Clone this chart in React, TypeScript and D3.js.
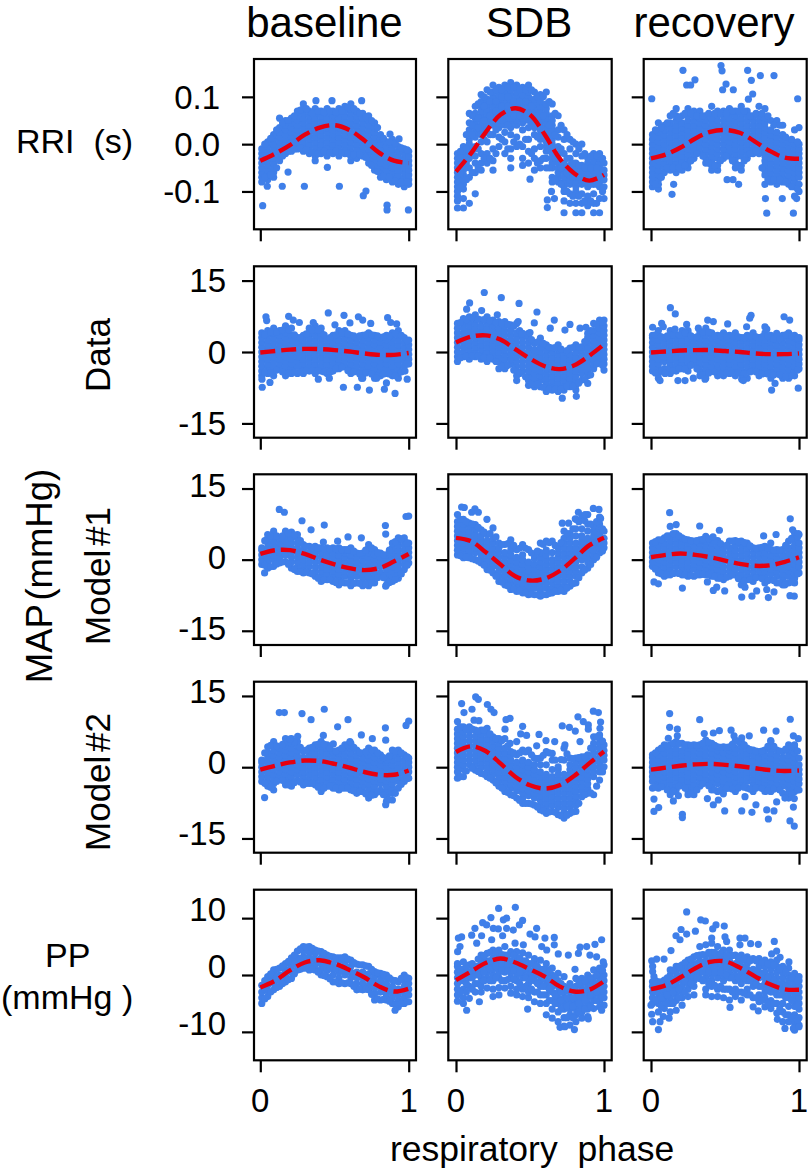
import { useEffect, useRef } from "react";
import * as d3 from "d3";

// each row: phase, then the values read at that phase
type Row = number[];

const columnTitles = ["baseline", "SDB", "recovery"];
const linePhases = [0, 0.1, 0.2, 0.3, 0.4, 0.5, 0.6, 0.7, 0.8, 0.9, 1];

const rriBaseline: Row[] = [
  [.01,-.08,-.07,-.06,-.05,-.04,-.03,-.02,-.01],
  [.05,-.075,-.065,-.055,-.045,-.035,-.025,-.015,-.005,.005],
  [.09,-.07,-.06,-.05,-.04,-.03,-.02,-.01,0,.01,.02],
  [.13,-.035,-.025,-.015,-.005,.005,.015,.025,.035,.055],
  [.17,-.02,-.01,0,.01,.02,.03,.04,.05],
  [.21,-.015,-.005,.005,.015,.025,.035,.045,.055],
  [.25,-.01,0,.01,.02,.03,.04,.05,.06,.07],
  [.29,-.015,-.005,.005,.015,.025,.035,.045,.055,.065,.075,.085],
  [.33,-.02,-.01,0,.01,.02,.03,.04,.05,.06,.07],
  [.37,-.035,-.025,-.015,-.005,.005,.015,.025,.035,.045,.055,.065,.075],
  [.41,-.02,-.01,0,.01,.02,.03,.04,.05,.06,.07],
  [.45,-.025,-.015,-.005,.005,.015,.025,.035,.045,.055,.065,.075],
  [.49,-.02,-.01,0,.01,.02,.03,.04,.05,.06,.07],
  [.53,-.025,-.015,-.005,.005,.015,.025,.035,.045,.055,.065,.075],
  [.57,-.02,-.01,0,.01,.02,.03,.04,.05,.06,.07,.08],
  [.61,-.035,-.025,-.015,-.005,.005,.015,.025,.035,.045,.055,.065,.075,.085],
  [.65,-.03,-.02,-.01,0,.01,.02,.03,.04,.05,.06,.07],
  [.69,-.025,-.015,-.005,.005,.015,.025,.035,.045,.055,.065],
  [.73,-.04,-.03,-.02,-.01,0,.01,.02,.03,.04,.05,.06],
  [.77,-.055,-.045,-.035,-.025,-.015,-.005,.005,.015,.025,.035,.045],
  [.81,-.07,-.06,-.05,-.04,-.03,-.02,-.01,0,.01,.02],
  [.85,-.075,-.065,-.055,-.045,-.035,-.025,-.015,-.005,.005],
  [.89,-.08,-.07,-.06,-.05,-.04,-.03,-.02,-.01,0,.01],
  [.93,-.085,-.075,-.065,-.055,-.045,-.035,-.025,-.015,-.005],
  [.97,-.09,-.08,-.07,-.06,-.05,-.04,-.03,-.02,-.01],
  [1,-.085,-.075,-.065,-.055,-.045,-.035,-.025,-.015],
  [.03,-.07,0],[.07,-.065,.012],[.11,-.05,.03],[.15,-.025,.045],[.19,-.015,.05],[.23,-.01,.06],[.27,-.008,.072],[.31,-.012,.075],[.35,-.018,.065],
  [.39,-.02,.07],[.43,-.015,.068],[.47,-.018,.07],[.51,-.015,.068],[.55,-.018,.07],[.59,-.02,.078],[.63,-.022,.075],[.67,-.022,.065],[.71,-.028,.058],
  [.75,-.045,.05],[.79,-.058,.035],[.83,-.068,.012],[.87,-.07,.005],[.91,-.078,.002],[.95,-.08,-.008],[.99,-.08,-.012],
  [.016,-.13],[.047,-.089],[.148,-.089],[.187,-.059],[.297,-.089],[.452,-.049],[.533,-.089],[.694,-.109],[.712,-.099],
  [.854,-.129],[.854,-.139],[.998,-.139],[.375,.092],[.483,.092],[.683,.092],[.874,.021],[.935,.011],
];

const rriSdb: Row[] = [
  [.01,-.11,-.1,-.09,-.08,-.07,-.06,-.05,-.04,-.03,-.02,-.135,-.12],
  [.05,-.135,-.115,-.095,-.085,-.075,-.065,-.055,-.045,-.035,-.025,-.015,-.005],
  [.09,-.125,-.07,-.05,-.03,-.02,-.01,0,.01,.02,.03,.045,.065],
  [.13,-.105,-.06,-.04,-.025,-.005,.015,.025,.035,.045,.055,.065,.08],
  [.17,-.055,-.04,-.02,.005,.02,.03,.04,.05,.06,.07,.08,.09,.105],
  [.21,-.04,-.02,.005,.025,.035,.045,.055,.065,.075,.085,.095,.115],
  [.25,-.055,-.035,-.01,.02,.04,.05,.06,.07,.08,.09,.1,.11,.125],
  [.29,-.005,.015,.035,.045,.055,.065,.075,.085,.095,.105,.12],
  [.33,-.02,.005,.025,.04,.05,.06,.07,.08,.09,.1,.11,.125],
  [.37,-.05,-.03,-.01,.02,.035,.045,.055,.065,.075,.085,.095,.105,.115,.13],
  [.41,-.005,.015,.04,.05,.06,.07,.08,.09,.1,.11,.125],
  [.45,-.045,-.03,-.005,.03,.045,.055,.065,.075,.085,.095,.105,.12],
  [.49,-.04,-.015,.01,.035,.05,.06,.07,.08,.09,.1,.11,.125],
  [.53,-.055,-.03,-.01,.02,.035,.045,.055,.065,.075,.085,.095,.11],
  [.57,-.05,-.035,-.005,.01,.02,.03,.04,.05,.06,.07,.08,.09,.105],
  [.61,-.05,-.03,-.015,-.005,.005,.015,.025,.035,.045,.055,.065,.075,.085,.11],
  [.65,-.08,-.07,-.05,-.04,-.03,-.02,-.01,0,.01,.02,.03,.04,.05,.06,.085],
  [.69,-.08,-.07,-.06,-.05,-.04,-.03,-.02,-.005,.015,.03,.06],
  [.73,-.145,-.12,-.1,-.09,-.08,-.07,-.06,-.05,-.04,-.02,.01,.03],
  [.77,-.125,-.105,-.085,-.075,-.065,-.055,-.045,-.03,-.01,.01],
  [.81,-.145,-.125,-.1,-.09,-.08,-.07,-.06,-.05,-.04,-.02,0],
  [.85,-.145,-.125,-.105,-.085,-.075,-.065,-.055,-.045,-.025,0],
  [.89,-.13,-.11,-.09,-.08,-.07,-.06,-.05,-.04,-.03],
  [.93,-.145,-.125,-.105,-.085,-.075,-.065,-.055,-.045,-.035,-.02],
  [.97,-.145,-.115,-.09,-.08,-.07,-.06,-.05,-.04,-.03,-.02],
  [1,-.115,-.09,-.075,-.065,-.055,-.04],
  [.03,-.09,-.06,-.03,-.015],[.07,-.075,-.04,-.01,.02],[.11,-.06,-.015,.02,.04,.06],[.15,-.05,-.01,.035,.055,.085],[.19,-.03,.01,.05,.08,.1],[.23,-.03,.02,.06,.09,.11],
  [.27,-.02,.03,.07,.09,.115],[.31,.01,.05,.08,.1,.115],[.35,-.01,.04,.08,.1,.12],[.39,.005,.06,.09,.12],[.43,0,.06,.09,.115],[.47,.01,.06,.09,.115],[.51,-.02,.04,.08,.115],
  [.55,-.04,.015,.06,.1],[.59,-.03,.02,.06,.1],[.63,-.05,-.01,.04,.09],[.67,-.075,-.03,.02,.065],[.71,-.085,-.05,-.01,.04],[.75,-.1,-.06,-.03,.02],[.79,-.11,-.07,-.04,.005],
  [.83,-.11,-.07,-.045,-.01],[.87,-.12,-.08,-.05,-.02],[.91,-.12,-.085,-.05,-.025],[.95,-.125,-.085,-.05,-.025],[.99,-.1,-.07,-.03],
  [.617,-.118],[.617,-.134],[.5,-.074],[.645,-.1],[.665,-.115],
];

const rriRecovery: Row[] = [
  [.01,-.09,-.08,-.07,-.06,-.05,-.04,-.03,-.02,-.01,0,.01,.02],
  [.05,-.095,-.085,-.075,-.065,-.055,-.045,-.035,-.025,-.015,-.005,.005,.015,.025,.045],
  [.09,-.06,-.05,-.04,-.03,-.02,-.01,0,.01,.02,.03,.04],
  [.13,-.055,-.045,-.035,-.025,-.015,-.005,.005,.015,.025,.035,.045,.06],
  [.17,-.06,-.05,-.04,-.03,-.02,-.01,0,.01,.02,.03,.04,.05,.06,.075],
  [.21,-.055,-.045,-.035,-.025,-.015,-.005,.005,.015,.025,.035,.045,.06],
  [.25,-.05,-.04,-.03,-.02,-.01,0,.01,.02,.03,.04,.05,.06,.075],
  [.29,-.03,-.02,-.01,0,.01,.02,.03,.04,.05,.06,.07],
  [.33,-.015,-.005,.005,.015,.025,.035,.045,.055,.07],
  [.37,-.04,-.03,-.02,-.01,0,.01,.02,.03,.04,.05,.06],
  [.41,-.055,-.045,-.035,-.025,-.015,-.005,.005,.015,.025,.035,.045,.055,.08],
  [.45,-.055,-.045,-.03,-.02,-.01,0,.01,.02,.03,.04,.05,.06,.07],
  [.49,-.03,-.02,-.01,0,.01,.02,.03,.04,.05,.06,.07],
  [.53,-.025,-.015,-.005,.005,.015,.025,.035,.045,.055,.065,.075],
  [.57,-.05,-.04,-.03,-.02,-.01,0,.01,.02,.03,.04,.05,.06,.07],
  [.61,-.055,-.045,-.025,-.015,-.005,.005,.015,.025,.035,.045,.055,.065,.08],
  [.65,-.03,-.02,-.01,0,.01,.02,.03,.04,.05,.06,.07],
  [.69,-.02,-.01,0,.01,.02,.03,.04,.05,.06],
  [.73,-.02,-.01,0,.01,.02,.03,.04,.05,.06,.08],
  [.77,-.085,-.065,-.055,-.045,-.035,-.025,-.015,-.005,.005,.015,.025,.035,.045,.055,.075],
  [.81,-.08,-.07,-.06,-.05,-.04,-.03,-.02,-.01,0,.01,.02,.03,.05],
  [.85,-.085,-.075,-.065,-.055,-.045,-.035,-.025,-.015,-.005,.005,.015,.025,.05],
  [.89,-.08,-.07,-.06,-.05,-.04,-.03,-.02,-.01,0,.01,.02,.04],
  [.93,-.085,-.075,-.065,-.055,-.045,-.035,-.025,-.015,-.005,.005],
  [.97,-.11,-.09,-.08,-.07,-.06,-.05,-.04,-.03,-.02,-.01,0,.03],
  [1,-.1,-.085,-.07,-.06,-.05,-.04,-.03,-.02,-.01,0,.035],
  [.03,-.085,.03],[.07,-.07,.035],[.11,-.05,.045],[.15,-.05,.065],[.19,-.05,.055],[.23,-.045,.065],[.27,-.035,.065],[.31,-.02,.06],[.35,-.025,.06],
  [.39,-.04,.065],[.43,-.045,.065],[.47,-.035,.065],[.51,-.025,.065],[.55,-.035,.07],[.59,-.045,.07],[.63,-.035,.07],[.67,-.02,.06],[.71,-.015,.065],
  [.75,-.05,.065],[.79,-.075,.06],[.83,-.075,.04],[.87,-.075,.04],[.91,-.08,.015],[.95,-.09,.01],[.99,-.095,.005],
  [.005,.096],[.216,.156],[.241,.125],[.268,.125],[.297,.136],[.473,.166],[.48,.155],[.507,.127],[.484,.115],[.556,.115],
  [.653,.156],[.678,.135],[.739,.145],[.831,.145],[.687,.106],[.658,.095],[.991,.096],[.153,-.085],[.142,-.106],[.514,-.075],
  [.554,-.075],[.592,-.085],[.773,-.115],[.887,-.115],[.782,-.146],[.962,-.146],[.984,-.115],
];

const mapDataBaseline: Row[] = [
  [.01,-5,-4,-3,-2,-1,0,1,2,3,4],
  [.05,-4.5,-3.5,-2.5,-1.5,-.5,.5,1.5,2.5,3.5,4.5],
  [.09,-5,-4,-3,-2,-1,0,1,2,3,4,5],
  [.13,-3.5,-2.5,-1.5,-.5,.5,1.5,2.5,3.5,4.5],
  [.17,-5,-4,-3,-2,-1,0,1,2,3,4,5.5],
  [.21,-4.5,-3.5,-2.5,-1.5,-.5,.5,1.5,2.5,3.5,5],
  [.25,-4.5,-3,-2,-1,0,1,2,3],
  [.29,-4.5,-3.5,-2.5,-1.5,-.5,.5,1.5,2.5,3.5],
  [.33,-4,-3,-2,-1,0,1,2,3,4,5],
  [.37,-4.5,-3.5,-2.5,-1.5,-.5,.5,1.5,2.5,3.5,4.5,5.5],
  [.41,-4,-3,-2,-1,0,1,2,3,4,5],
  [.45,-4.5,-3.5,-2.5,-1.5,-.5,.5,1.5,2.5],
  [.49,-4,-3,-2,-1,0,1,2,3,3.5],
  [.53,-3.5,-2.5,-1.5,-.5,.5,1.5,2.5,3.5,4.5],
  [.57,-3,-2,-1,0,1,2,3,4,4.5],
  [.61,-4.5,-3.5,-2.5,-1.5,-.5,.5,1.5,2.5,3.5],
  [.65,-4,-3,-2,-1,0,1,2,3],
  [.69,-5.5,-4.5,-3.5,-2.5,-1.5,-.5,.5,1.5,2.5,3.5],
  [.73,-4,-3,-2,-1,0,1,2,3,4],
  [.77,-5.5,-4.5,-3.5,-2.5,-1.5,-.5,.5,1.5,2.5,3.5],
  [.81,-5,-4,-3,-2,-1,0,1,2,3],
  [.85,-4.5,-3.5,-2.5,-1.5,-.5,.5,1.5,2.5,3.5],
  [.89,-5,-4,-3,-2,-1,0,1,2,3,4],
  [.93,-5.5,-4.5,-3.5,-2.5,-1.5,-.5,.5,1.5,2.5,3.5,4.5],
  [.97,-3,-2,-1,0,1,2,3],
  [1,-2.5,-1.5,-.5,.5,1.5,2.5],
  [.03,-4.2,3.6],[.07,-4.4,4.2],[.11,-3.8,4.2],[.15,-4.2,4.6],[.19,-4.4,4.6],[.23,-4.2,3.6],[.27,-4.2,3],[.31,-3.9,3.8],[.35,-3.9,4.6],[.39,-3.9,4.6],[.43,-4.2,3.6],
  [.47,-4.2,3],[.51,-3.5,3.6],[.55,-3.2,4],[.59,-3.9,3.8],[.63,-4.2,3.4],[.67,-4.6,3.4],[.71,-4.4,3.6],[.75,-4.6,3.6],[.79,-5,3.4],[.83,-4.6,3.2],[.87,-4.6,3.4],
  [.91,-5,3.8],[.95,-4.2,3.5],[.99,-2.5,2.4],
  [.038,7.4],[.043,6.6],[.191,7.5],[.222,6.7],[.263,6.2],[.458,8.2],[.564,7.7],[.661,7.4],[.69,6.7],[.604,6.1],[.744,6],[.503,5.7],
  [.357,6.2],[.858,7.2],[.879,6.2],[.919,5.9],[.013,-7.4],[.065,-6.4],[.56,-7.4],[.654,-7.4],[.735,-8],[.836,-7.8],[.908,-8.7],
  [.99,-5.7],[.975,-4],[.011,-5.7],[.683,-5.5],[.85,-6.5],[.784,-5.5],[.391,-5.7],[.465,-5.5],
];

const mapDataSdb: Row[] = [
  [.01,-2,-1,0,1,2,3,4,5,6],
  [.05,-1,0,1,2,3,4,5,6,7],
  [.09,-1.5,-.5,.5,1.5,2.5,3.5,4.5,5.5,6.5,7.4],
  [.13,-1,0,1,2,3,4,5,6,7,7.8],
  [.17,-1.5,-.5,.5,1.5,2.5,3.5,4.5,5.5,6.7],
  [.21,-2,-1,0,1,2,3,4,5,6,7.4],
  [.25,-1.5,-.5,.5,1.5,2.5,3.5,4.5,5.5,6.7],
  [.29,-3.5,-2,-1,0,1,2,3,4,5,6.4],
  [.33,-3.5,-2.5,-1.5,-.5,.5,1.5,2.5,3.5,4.5,5.5,6.4],
  [.37,-2.5,-1.5,-.5,.5,1.5,2.5,3.5,4.5,5.7],
  [.41,-6,-5,-4,-3,-2,-1,0,1,2,3,4,6],
  [.45,-4,-3,-2,-1,0,1,2,3,3.9],
  [.49,-7,-6,-5,-4,-3,-2,-1,0,1,2,3,3.9],
  [.53,-7.3,-6.5,-5.5,-4.5,-3.5,-2.5,-1.5,-.5,.5,1.8],
  [.57,-7.3,-6,-5,-4,-3,-2,-1,0,1,2,2.9],
  [.61,-8.3,-7.5,-6.5,-5.5,-4.5,-3.5,-2.5,-1.5,-.5,.5,1.5],
  [.65,-8,-7,-6,-5,-4,-3,-2,-1,0,.8],
  [.69,-8.3,-7.5,-6.5,-5.5,-4.5,-3.5,-2.5,-1.5,-.5,.5,1.5],
  [.73,-8,-7,-6,-5,-4,-3,-2,-1,0],
  [.77,-7.3,-6.5,-5.5,-4.5,-3.5,-2.5,-1.5,-.5,.8],
  [.81,-8,-7,-6,-5,-4,-3,-2,-1,0,1,1.5],
  [.85,-5.9,-4.5,-3.5,-2.5,-1.5,-.5,.5,1.1],
  [.89,-6.6,-5,-4,-3,-2,-1,0,1,2,3,3.9],
  [.93,-3.5,-2.5,-1.5,-.5,.5,1.5,2.5,3.5,4.5,6],
  [.97,-2,-1,0,1,2,3,4,5,6,6.7],
  [1,-3.8,-2.5,-1.5,-.5,.5,1.5,2.5,3.5,4.5,5.5,6.7],
  [.03,-1.2,6.2],[.07,-.9,6.8],[.11,-.8,7.2],[.15,-.8,6.9],[.19,-1.2,6.8],[.23,-1.2,6.6],[.27,-2,6.2],[.31,-3,6],[.35,-2.8,5.8],[.39,-3.8,5.4],[.43,-4.5,4.5],
  [.47,-5.2,3.5],[.51,-6.8,2.6],[.55,-6.8,2.1],[.59,-7.4,1.8],[.63,-7.8,1],[.67,-7.8,.9],[.71,-7.8,.6],[.75,-7.2,.3],[.79,-7.2,.9],[.83,-6.5,1],[.87,-5.8,2.2],
  [.91,-4.8,4.5],[.95,-2.5,5.8],[.99,-2.8,6.2],
  [.191,12.5],[.306,11.4],[.426,10.2],[.547,8.4],[.092,10.3],[.072,9],[.173,8.7],[.279,7.8],[.529,6.1],[.664,6.7],[.637,5],
  [.77,5.8],[.736,4.6],[.838,5],[.878,5.2],[.718,-9.7],[.813,-9.3],[.42,6.4],[.5,4.1],[.444,3.8],
];

const mapDataRecovery: Row[] = [
  [.01,-4,-3,-2,-1,0,1,2,3,3.5],
  [.05,-5.5,-4.5,-3.5,-2.5,-1.5,-.5,.5,1.5,2.5,3.5,4.5],
  [.09,-3.5,-2,-1,0,1,2,3],
  [.13,-4.5,-3.5,-2.5,-1.5,-.5,.5,1.5,2.5,3.5,4.5],
  [.17,-4,-3,-2,-1,0,1,2,3,3.5],
  [.21,-3.5,-2.5,-1.5,-.5,.5,1.5,2.5,3.5,4.5],
  [.25,-4,-3,-2,-1,0,1,2,3,4,4.5],
  [.29,-2.5,-1.5,-.5,.5,1.5,2.5,3],
  [.33,-5,-4,-3,-2,-1,0,1,2,3,4],
  [.37,-5.5,-4.5,-3.5,-2.5,-1.5,-.5,.5,1.5,2.5,3.5,5],
  [.41,-4,-3,-2,-1,0,1,2,3,4],
  [.45,-5,-3.5,-2.5,-1.5,-.5,.5,1.5,2.5,3.5],
  [.49,-5,-4,-3,-2,-1,0,1,2,3,4],
  [.53,-4.5,-3.5,-2.5,-1.5,-.5,.5,1.5,2.5,3.5],
  [.57,-5,-4,-3,-2,-1,0,1,2,3,4],
  [.61,-4.5,-3.5,-2.5,-1.5,-.5,.5,1.5,2.5,3],
  [.65,-5.5,-4,-3,-2,-1,0,1,2,3,3.5],
  [.69,-3.5,-2.5,-1.5,-.5,.5,1.5,2.5,3.5,4],
  [.73,-5,-4,-3,-2,-1,0,1,2,3],
  [.77,-4.5,-3.5,-2.5,-1.5,-.5,.5,1.5,2.5,3.5,4],
  [.81,-5.5,-4,-3,-2,-1,0,1,2,3,3.5],
  [.85,-4.5,-3.5,-2.5,-1.5,-.5,.5,1.5,2.5],
  [.89,-5.5,-4,-3,-2,-1,0,1,2,3,3.5],
  [.93,-5.5,-4.5,-3.5,-2.5,-1.5,-.5,.5,1.5,2.5,3.5,4],
  [.97,-5,-4,-3,-2,-1,0,1,2,3,3.5],
  [1,-3.5,-2.5,-1.5,-.5,.5,1.5,2.5,3],
  [.03,-4.4,3.6],[.07,-4,3.2],[.11,-3.6,3.4],[.15,-3.9,3.6],[.19,-3.5,3.6],[.23,-3.6,4],[.27,-2.8,3.4],[.31,-3.5,3.2],[.35,-4.8,4.2],[.39,-4.4,4.2],[.43,-4.2,3.4],
  [.47,-4.6,3.4],[.51,-4.4,3.4],[.55,-4.4,3.4],[.59,-4.4,3.2],[.63,-4.6,3],[.67,-4.2,3.4],[.71,-4.2,3.2],[.75,-4.6,3.2],[.79,-4.6,3.4],[.83,-4.8,2.8],[.87,-4.8,2.8],
  [.91,-5.2,3.6],[.95,-5,3.4],[.99,-3.8,2.8],
  [.131,9.3],[.164,8],[.383,6.7],[.421,6.4],[.518,5.9],[.676,7.7],[.667,7.1],[.646,5.3],[.899,7.4],[.937,6.7],[.77,5.3],[.782,4.8],
  [.849,3.9],[.815,-8],[.838,-6.6],[.995,-7.6],[.182,-6],[.23,-6],[.286,-5.5],[.365,-5.7],[.061,-6],[.095,-4.5],[.011,5.2],
  [.072,6],[.083,5.3],[.162,4.8],[.241,5.8],[.32,5],[.995,2.9],[.613,-5.7],[.624,-6],
];

const model1Baseline: Row[] = [
  [.01,-1,0,1,2,2.5],
  [.05,-1.8,-.5,.5,1.5,2.5,3.5,4.5,5.3],
  [.09,-1.4,0,1,2,3,4,5,6],
  [.13,-.7,.5,1.5,2.5,3.5,4.6],
  [.17,-.4,1,2,3,4,5,6],
  [.21,-1.8,-.5,.5,1.5,2.5,3.5,4.5,5.8],
  [.25,-2.5,-1.5,-.5,.5,1.5,2.5,3.5,4.5,5.3],
  [.29,-2.8,-2,-1,0,1,2,3.2],
  [.33,-2.8,-1.5,-.5,.5,1.5,2.8],
  [.37,-3.5,-2.5,-1.5,-.5,.5,1.5,2.8],
  [.41,-4.6,-3.5,-2.5,-1.5,-.5,.5,1.5,2.5],
  [.45,-4.2,-3,-2,-1,0,1,2,2.5],
  [.49,-4.6,-3.5,-2.5,-1.5,-.5,.5,1.5,2.5],
  [.53,-5.3,-4,-3,-2,-1,0,1,2,2.5],
  [.57,-4.9,-3.5,-2.5,-1.5,-.5,.5,1.5,2.1],
  [.61,-5.5,-4,-3,-2,-1,0,1,2,2.5],
  [.65,-4.9,-3.5,-2.5,-1.5,-.5,.5,1.4],
  [.69,-5.5,-4,-3,-2,-1,0,1,1.4],
  [.73,-5.5,-4.5,-3.5,-2.5,-1.5,-.5,.5,1.5,2.5,3.2],
  [.77,-4.9,-4,-3,-2,-1,0,1,2.1],
  [.81,-2.8,-1.5,-.5,.5,1.4],
  [.85,-5.3,-4,-3,-2,-1,0,1],
  [.89,-4.6,-3.5,-2.5,-1.5,-.5,.5,1.5,2.5,3.5],
  [.93,-3.9,-3,-2,-1,0,1,2,3,4,4.6],
  [.97,-2.1,-1,0,1,2,3,4,4.6],
  [1,-.7,.5,1.5,2.5,3.5],
  [.03,-1.2,4],[.07,-1.5,5],[.11,-.9,5],[.15,-.5,5],[.19,-1,5.5],[.23,-2.1,5.2],[.27,-2.5,4],[.31,-2.6,2.8],[.35,-3,2.6],[.39,-3.9,2.5],[.43,-4.2,2.3],[.47,-4.2,2.3],
  [.51,-4.8,2.3],[.55,-4.8,2.1],[.59,-4.9,2.1],[.63,-5,1.8],[.67,-5,1.3],[.71,-5.2,2],[.75,-4.9,2.5],[.79,-3.8,1.5],[.83,-3.8,1],[.87,-4.8,2],[.91,-4.2,3.8],[.95,-3,4.4],[.99,-1.2,3.5],
  [.128,10.6],[.162,10],[.281,8.2],[.342,6.3],[.431,7.3],[.521,3.9],[.591,4.8],[.681,4.6],[.425,3.7],[.843,7.2],[.845,5.4],
  [.982,9.1],[1,9.2],[.029,-2.8],[.845,-5.6],
];

const model1Sdb: Row[] = [
  [.01,1,2,3,4,5,6,7,8,9.5],
  [.05,.4,1.5,2.5,3.5,4.5,5.5,6.5,7.5,8.5],
  [.09,.4,1,2,3,4,5,6,7,7.7],
  [.13,0,1.5,2.5,3.5,4.5,5.5,6.5,7.4],
  [.17,-.7,0,1,2,3,4,5,6.3],
  [.21,-2.1,-1,0,1,2,3,4,5.3],
  [.25,-2.8,-1.5,-.5,.5,1.5,2.5,3.5,4.5,6.7],
  [.29,-4.6,-3.5,-2.5,-1.5,-.5,.5,1.5,2.5,3.5],
  [.33,-5.3,-4.5,-3.5,-2.5,-1.5,-.5,.5,1.5,3.2],
  [.37,-6.3,-5,-4,-3,-2,-1,0,1,2,3,4.2],
  [.41,-6.7,-5.5,-4.5,-3.5,-2.5,-1.5,-.5,.5,2.1],
  [.45,-7,-6,-5,-4,-3,-2,-1,0,1,3.2],
  [.49,-7.4,-6.5,-5.5,-4.5,-3.5,-2.5,-1.5,-.5,2.1],
  [.53,-7.4,-6,-5,-4,-3,-2,-1,.2,1],
  [.57,-7.7,-6.5,-5.5,-4.5,-3.5,-2.5,-1.5,-.5,.5,1.5,3.5],
  [.61,-7.4,-6,-5,-4,-3,-2,-1,0,1,2,3.9],
  [.65,-7,-6,-5,-4,-3,-2,-1,0,1.5,3.9],
  [.69,-6.7,-5.5,-4.5,-3.5,-2.5,-1.5,-.5,.5,1.5,2.5],
  [.73,-6.7,-5.5,-4.5,-3.5,-2.5,-1.5,-.5,.5,1.5,2.5,3.5,4.5,6],
  [.77,-5.6,-4.5,-3.5,-2.5,-1.5,-.5,.5,1.5,2.5,3.5,4.5,5.5],
  [.81,-4.9,-3.5,-2.5,-1.5,-.5,.5,1.5,2.5,3.5,5,6.5,8.5],
  [.85,-2.8,-1.5,0,1,2,3,4,5,6.5,9.2],
  [.89,-1.8,-.5,.5,1.5,2.5,3.5,4.5,6,7.5,9.5],
  [.93,0,1,2,3,4,5,6,7],
  [.97,1.4,2.5,3.5,4.5,5.5,6.5,7.5,9],
  [1,2.5,3.5,4.5,6],
  [.03,.8,8.5],[.07,.5,8],[.11,.2,7.5],[.15,-.3,6.8],[.19,-1.2,5.8],[.23,-2.2,5.5],[.27,-3.5,4.8],[.31,-4.7,3.2],[.35,-5.5,3.4],[.39,-6.2,3],[.43,-6.6,2.4],[.47,-7,2.4],
  [.51,-7.2,1.4],[.55,-7.4,1.8],[.59,-7.4,3.2],[.63,-7.1,3.6],[.67,-6.7,3],[.71,-6.5,3.6],[.75,-6,5.5],[.79,-5.1,6.5],[.83,-3.8,8],[.87,-2.2,8.2],[.91,-1,7.5],[.95,.5,8],[.99,1.8,6.5],
  [.038,11.1],[.056,11],[.128,10.7],[.106,10],[.151,10],[.209,8.5],[.928,10.8],[.966,10.6],[.827,10],[.872,9.5],[.977,8.7],
  [.718,7.7],[.806,8.6],[.761,7.7],
];

const model1Recovery: Row[] = [
  [.01,-1.4,-.5,.5,1.5,2.5,3.5],
  [.05,-2.8,-2,-1,0,1,2,3,4.2],
  [.09,-3.5,-2.5,-1.5,-.5,.5,1.5,2.5,3.5,4.6],
  [.13,-3.2,-2,-1,0,1,2,3,4,5,7],
  [.17,-2.8,-1.5,-.5,.5,1.5,2.5,3.5,4.5,5.5,7.4],
  [.21,-3.2,-2,-1,0,1,2,3,4,4.6],
  [.25,-3.5,-2.5,-1.5,-.5,.5,1.5,2.5,3.5,4.2],
  [.29,-3.5,-2,-1,0,1,2,3,3.9],
  [.33,-3.2,-2.5,-1.5,-.5,.5,1.5,2.5,3.5,4.2],
  [.37,-3.2,-2,-1,0,1,2,3,4,4.9],
  [.41,-3.5,-2.5,-1.5,-.5,.5,1.5,2.5,3.5,4.2],
  [.45,-3.9,-3,-2,-1,0,1,2,3,4],
  [.49,-4.2,-3.5,-2.5,-1.5,-.5,.5,1.5,2.5],
  [.53,-3.5,-2.5,-1.5,-.5,.5,1.5,2.5,3.9],
  [.57,-3.2,-2,-1,0,1,2,3,4],
  [.61,-5.3,-4,-3,-2,-1,0,1,2,3,3.9],
  [.65,-4.2,-3.5,-2.5,-1.5,-.5,.5,1.5,2.5,3.5],
  [.69,-4.6,-3.5,-2.5,-1.5,-.5,.5,1.5,2.5],
  [.73,-3.5,-2.5,-1.5,-.5,.5,1.5,2.5],
  [.77,-4.9,-3.5,-2.5,-1.5,-.5,.5,1.5,2.8],
  [.81,-4.2,-3,-2,-1,0,1,2.1],
  [.85,-4.9,-3.5,-2.5,-1.5,-.5,.5,1.5,2.1],
  [.89,-5.3,-4,-3,-2,-1,0,1,2.1],
  [.93,-4.9,-3.5,-2.5,-1.5,-.5,.5,1.5,2.5,3.9],
  [.97,-4.9,-4,-3,-2,-1,0,1,2,3,4,5.6],
  [1,-2.8,-1.5,-.5,.5,1.5,2.5,3.5,5.3],
  [.03,-2,3.8],[.07,-3,4.2],[.11,-3.2,5],[.15,-2.9,5.5],[.19,-2.9,5],[.23,-3.2,4.3],[.27,-3.3,4],[.31,-3.2,4],[.35,-3.1,4.3],[.39,-3.2,4.4],[.43,-3.5,4],[.47,-3.9,3.4],
  [.51,-3.7,3],[.55,-3.2,3.9],[.59,-4,3.8],[.63,-4.5,3.6],[.67,-4.2,2.9],[.71,-3.8,2.4],[.75,-4,2.6],[.79,-4.4,2.4],[.83,-4.4,2],[.87,-4.9,2],[.91,-4.9,3],[.95,-4.7,4.5],[.99,-3,4.8],
  [.126,9.9],[.329,7.1],[.462,6.2],[.419,4.8],[.761,5],[.845,5.3],[.809,3.5],[.941,8.6],[.957,6.3],[.995,5.5],[.02,-4.7],[.05,-5.1],
  [.212,-6],[.381,-4.7],[.421,-6.5],[.444,-5.8],[.498,-6.6],[.613,-7.9],[.635,-5.8],[.682,-7.7],[.714,-6.6],[.793,-8],[.782,-6.3],
  [.831,-6.8],[.939,-7.6],[.968,-7.7],[.905,-5.3],
];

const model2Baseline: Row[] = [
  [.01,-3,-2,-1,0,1,1.5],
  [.05,-4,-3,-2,-1,0,1,2,3,4.3],
  [.09,-4.8,-3.5,-2.5,-1.5,-.5,.5,1.5,2.5,3.5,4.5,5.4],
  [.13,-2,-1,0,1,2,3,4],
  [.17,-3.7,-2.5,-1.5,-.5,.5,1.5,2.5,3.5,4.5,6],
  [.21,-4,-3,-2,-1,0,1,2,3,4,5,6],
  [.25,-2.7,-1.5,-.5,.5,1.5,2.5,3.5,4.5,5.4],
  [.29,-3.7,-3,-2,-1,0,1,2,3.3],
  [.33,-3.4,-2.5,-1.5,-.5,.5,1.5,2.5,3.5,4],
  [.37,-3.7,-3,-2,-1,0,1,2,3,4,4.7],
  [.41,-5.1,-3.5,-2.5,-1.5,-.5,.5,1.5,2.5,3.5,4.5,5.4],
  [.45,-4,-3,-2,-1,0,1,2,3,4,4.7],
  [.49,-4.4,-3.5,-2.5,-1.5,-.5,.5,1.5,2.5,3.3],
  [.53,-4.8,-4,-3,-2,-1,0,1,2,3,3.6],
  [.57,-4.4,-3.5,-2.5,-1.5,-.5,.5,1.5,2.5,3.5,4.7],
  [.61,-4.8,-4,-3,-2,-1,0,1,2,3,4,5],
  [.65,-5.5,-4.5,-3.5,-2.5,-1.5,-.5,.5,1.5,2.5,3.6],
  [.69,-5.1,-4,-3,-2,-1,0,1,2,2.9],
  [.73,-6.5,-5.5,-4.5,-3.5,-2.5,-1.5,-.5,.5,1.5,2.5,4],
  [.77,-5.8,-5,-4,-3,-2,-1,0,1,2,3,3.6],
  [.81,-4.8,-3.5,-2.5,-1.5,-.5,.5,1.5,2.6],
  [.85,-7.2,-6,-5,-4,-3,-2,-1,0,1,1.5],
  [.89,-6.9,-5.5,-4.5,-3.5,-2.5,-1.5,-.5,.5,1.5,2.5,3.6],
  [.93,-4.4,-3,-2,-1,0,1,2,3,3.6],
  [.97,-3,-2.5,-1.5,-.5,.5,1.5,2.6],
  [1,-2.3,-1,0,1,1.9],
  [.03,-3.4,3],[.07,-4.2,4.6],[.11,-3,4.5],[.15,-2.8,4.8],[.19,-3.7,5.4],[.23,-3.2,5.4],[.27,-3.1,4.2],[.31,-3.4,3.6],[.35,-3.4,4.2],[.39,-4.2,4.8],[.43,-4.4,4.8],[.47,-4,4],
  [.51,-4.4,3.4],[.55,-4.4,4],[.59,-4.4,4.7],[.63,-5,4.2],[.67,-5.1,3.1],[.71,-5.6,3.3],[.75,-5.9,3.6],[.79,-5.2,3],[.83,-5.8,2],[.87,-6.8,2.4],[.91,-5.5,3.4],[.95,-3.6,3],[.99,-2.4,2.2],
  [.128,11.5],[.162,11.5],[.281,11.3],[.342,10],[.431,12.2],[.521,8.5],[.591,10],[.681,6.8],[.755,6],[.425,6.7],[.843,8.3],[.845,5.7],
  [.982,8.8],[1,9.7],[.029,-6.4],[.845,-7.9],[.604,5.4],[.492,4.9],[.252,6.5],[.2,5.9],
];

const model2Sdb: Row[] = [
  [.01,-2.3,-1,0,1,2,3,4,5,6,7,8,9.6],
  [.05,-2,-.5,.5,1.5,2.5,3.5,4.5,5.5,6.5,7.5,8.5],
  [.09,.5,1.5,2.5,3.5,4.5,5.5,6.5,7.5,8.5],
  [.13,-.6,.5,1.5,2.5,3.5,4.5,5.5,6.5,7.8],
  [.17,-1.3,0,1,2,3,4,5,6,7,7.8],
  [.21,-2,-1,0,1,2,3,4,5,6,7,8.2],
  [.25,-2.7,-1.5,-.5,.5,1.5,2.5,3.5,4.5,5.5,6.4],
  [.29,-4,-3,-2,-1,0,1,2,3,4,5,6],
  [.33,-5.1,-4,-3,-2,-1,0,1,2,3,4,6],
  [.37,-5.8,-4.5,-3.5,-2.5,-1.5,-.5,.5,1.5,2.5,3.3],
  [.41,-6.5,-5,-4,-3,-2,-1,0,1,2.6],
  [.45,-7.6,-6.5,-5.5,-4.5,-3.5,-2.5,-1.5,-.5,.5,1.5,3.6],
  [.49,-7.6,-6,-5,-4,-3,-2,-1,0,1,3.6],
  [.53,-8,-6.5,-5.5,-4.5,-3.5,-2.5,-1.5,-.5,.5,1.9],
  [.57,-9,-8,-7,-6,-5,-4,-3,-2,-1,.5,1.9],
  [.61,-9.7,-8.5,-7.5,-6.5,-5.5,-4.5,-3.5,-2.5,-1.5,.5,3.3],
  [.65,-9.3,-8,-7,-6,-5,-4,-3,-2,-.5,1.5,2.9],
  [.69,-10,-8.5,-7.5,-6.5,-5.5,-4.5,-3.5,-2.5,-1.5,-.5,.1],
  [.73,-10.7,-9.5,-8.5,-7.5,-6.5,-5.5,-4.5,-3.5,-2.5,-1.5,1.5,4],
  [.77,-9.7,-8.5,-7.5,-6.5,-5.5,-4.5,-3.5,-2.5,-1.5,-.5,.5,1.9],
  [.81,-9.3,-8,-7,-6,-5,-4,-3,-2,-1,0,1,1.9],
  [.85,-6.2,-5,-4,-3,-2,-1,0,1,2.2],
  [.89,-5.5,-4.5,-3.5,-2.5,-1.5,-.5,.5,1.5,2.6],
  [.93,-5.8,-2,-1,0,1,2,3,4,5,6.4],
  [.97,-2.7,-1,0,1,2,3,4,5,6,6.8],
  [1,.1,1.5,2.5,3.5,4.7],
  [.03,-2,8.5],[.07,-.8,8],[.11,-.2,8],[.15,-.9,7.6],[.19,-1.5,7.8],[.23,-2.3,7],[.27,-3.3,6],[.31,-4.4,5.6],[.35,-5.3,4.5],[.39,-6,3],[.43,-7,3],[.47,-7.6,3.2],
  [.51,-7.7,2.6],[.55,-8.4,1.8],[.59,-9.2,2.5],[.63,-9.4,3],[.67,-9.5,1.5],[.71,-10.2,1.6],[.75,-10.1,2.8],[.79,-9.4,1.8],[.83,-7.6,2],[.87,-5.8,2.2],[.91,-5.4,4],[.95,-4,6.4],[.99,-1,5.5],
  [.133,14.8],[.151,14.3],[.038,13.4],[.054,11.5],[.108,12.2],[.212,13.2],[.236,12.2],[.257,11.5],[.122,9.9],[.155,9.8],[.338,10],
  [.365,10.3],[.331,8],[.45,8.6],[.437,7],[.477,6.7],[.561,6.9],[.608,5.6],[.667,5.4],[.545,4.5],[.718,8.7],[.766,8.4],[.806,7.6],
  [.824,10.6],[.86,9.6],[.894,8.9],[.894,8],[.928,11.8],[.962,11.5],[.977,9.5],[.973,8.2],[.838,5.4],[.736,4.7],[.365,5],[.41,5.4],
];

const model2Recovery: Row[] = [
  [.01,-4.4,-3,-2,-1,0,1,2,2.6],
  [.05,-4.4,-3.5,-2.5,-1.5,-.5,.5,1.5,2.5,3.6],
  [.09,-4,-3,-2,-1,0,1,2,3,4,4.7],
  [.13,-5.8,-4.5,-3.5,-2.5,-1.5,-.5,.5,1.5,2.5,3.5,4.7],
  [.17,-4.8,-4,-3,-2,-1,0,1,2,3,4,5.4],
  [.21,-3.4,-2.5,-1.5,-.5,.5,1.5,2.5,3.5,5],
  [.25,-5.8,-5,-4,-3,-2,-1,0,1,2,3,4,4.7],
  [.29,-5.8,-4.5,-3.5,-2.5,-1.5,-.5,.5,1.5,2.5,3.5,4.7],
  [.33,-4,-3,-2,-1,0,1,2,3,4,4.7],
  [.37,-3,-2.5,-1.5,-.5,.5,1.5,2.5,3.5,4.5,5.7],
  [.41,-4.8,-4,-3,-2,-1,0,1,2,3,4,5],
  [.45,-5.1,-3.5,-2.5,-1.5,-.5,.5,1.5,2.5,3.5,4.3],
  [.49,-4.8,-4,-3,-2,-1,0,1,2,3,4.3],
  [.53,-4.4,-3.5,-2.5,-1.5,-.5,.5,1.5,2.5,3.5,4.3],
  [.57,-5.1,-4,-3,-2,-1,0,1,2,3,4,5.7],
  [.61,-4,-3.5,-2.5,-1.5,-.5,.5,1.5,2.5,3.5,4.5,5.4],
  [.65,-4.4,-3,-2,-1,0,1,2,3,4],
  [.69,-5.1,-4.5,-3.5,-2.5,-1.5,-.5,.5,1.5,2.5,3.6],
  [.73,-4,-3,-2,-1,0,1,2,3,3.3],
  [.77,-5.1,-4.5,-3.5,-2.5,-1.5,-.5,.5,1.5,2.5,3.6],
  [.81,-5.1,-4,-3,-2,-1,0,1,2,3,4,5.4],
  [.85,-4.4,-3.5,-2.5,-1.5,-.5,.5,1.5,2.5,3.6],
  [.89,-5.5,-4,-3,-2,-1,0,1,2,3.3],
  [.93,-6.5,-5.5,-4.5,-3.5,-2.5,-1.5,-.5,.5,1.5,2.5,3.5,4.7],
  [.97,-5.1,-4,-3,-2,-1,0,1,2,3,4,4.7],
  [1,-4.8,-3.5,-2.5,-1.5,-.5,.5,1.9],
  [.03,-4.2,3],[.07,-4.1,4],[.11,-4.8,4.5],[.15,-5.1,5],[.19,-4,5],[.23,-4.4,4.7],[.27,-5.6,4.6],[.31,-4.8,4.6],[.35,-3.5,5],[.39,-3.9,5.2],[.43,-4.8,4.6],[.47,-4.8,4.2],
  [.51,-4.5,4.2],[.55,-4.6,4.8],[.59,-4.4,5.4],[.63,-4.2,4.7],[.67,-4.6,3.7],[.71,-4.4,3.4],[.75,-4.5,3.4],[.79,-5,4.4],[.83,-4.6,4.4],[.87,-4.8,3.4],[.91,-5.8,3.8],[.95,-5.6,4.4],[.99,-4.8,3.4],
  [.126,11.3],[.329,10],[.941,10.1],[.126,8.4],[.178,8],[.117,6.1],[.178,6.6],[.36,7.1],[.421,7.2],[.462,7.7],[.541,7.8],[.561,6.6],
  [.761,7.8],[.845,7.6],[.664,6.6],[.613,6.2],[.809,5.6],[.962,6.6],[.995,6],[.02,-6.7],[.02,-9.3],[.052,-8.5],[.212,-9.9],[.212,-10.6],
  [.151,-7.1],[.185,-6],[.381,-6.6],[.421,-7.9],[.455,-6.9],[.498,-9.2],[.489,-5.6],[.613,-9.2],[.635,-6.2],[.682,-9.5],[.709,-7.9],
  [.782,-9],[.793,-10.9],[.831,-9.2],[.849,-7.3],[.939,-11.3],[.968,-12.4],[.962,-8.4],[.968,-6.6],[.905,-6.5],
];

const ppBaseline: Row[] = [
  [.01,-5,-4,-3,-1.8],
  [.05,-3.8,-2.8,-1.8,-.8,-.3],
  [.09,-2.6,-1.5,-.5,.5,.9],
  [.13,-2,-1,0,1.2],
  [.17,-1.2,-.2,.8,2],
  [.21,-.6,.5,1.5,2.5,3],
  [.25,.9,2,3,4.2],
  [.29,1.2,2.2,3.2,4.2,5],
  [.33,.9,2,3,4,5],
  [.37,.9,1.8,2.8,3.8,4.4],
  [.41,0,1,2,3,4.1],
  [.45,-.3,.8,1.8,2.8,3.5],
  [.49,-1.2,0,1,2,3.2],
  [.53,-1.5,-.5,.5,1.5,2.5,3],
  [.57,-1.5,0,1,2,3.2],
  [.61,-1.5,-.5,.5,1.5,2.6],
  [.65,-2.6,-1.5,-.5,.5,1.9],
  [.69,-2.6,-1.5,-.5,.5,1.8],
  [.73,-2.6,-1.8,-.8,.2,1.5],
  [.77,-4.4,-3.3,-2.3,-1.3,-.3,.6],
  [.81,-4.4,-3,-2,-1,0,.3],
  [.85,-4.4,-3.5,-2.5,-1.5,-.5,0],
  [.89,-5,-4,-3,-2,-.9],
  [.93,-5.6,-4.5,-3.5,-2.5,-1.2],
  [.97,-5,-4,-3,-2,-1,0],
  [1,-4.7,-3.5,-2.5,-1.5,-.6],
  [.03,-4.2,-2.5,-1],[.07,-3,-1.3,.2],[.11,-2.2,-.5,1],[.15,-1.5,0,1.6],[.19,-.8,.8,2.4],[.23,.2,2,3.5],[.27,1,2.8,4.6],[.31,1.2,3,4.9],[.35,1,2.8,4.7],[.39,.5,2.4,4.2],[.43,-.1,1.8,3.8],[.47,-.7,1.3,3.3],
  [.51,-1.2,1,3],[.55,-1.4,.8,3],[.59,-1.4,.7,2.8],[.63,-2,.2,2.2],[.67,-2.5,-.4,1.8],[.71,-2.5,-.5,1.6],[.75,-3.4,-1.2,1],[.79,-4.2,-1.9,.4],[.83,-4.3,-2.1,.1],[.87,-4.6,-2.6,-.5],[.91,-5.2,-3,-1],[.95,-5,-2.8,-.6],[.99,-4.7,-2.6,-.5],
  [.908,-6.2],
];

const ppSdb: Row[] = [
  [.01,-4.6,-3.5,-2.5,-1.5,-.5,.5,1.5,2],
  [.05,-5,-4,-2.5,-1,0,1,2.3],
  [.09,-4.1,-2,-.5,.5,1.8],
  [.13,-3,-1.5,0,.8,1.5],
  [.17,-3,-2,-.5,.5,1.5,2.5,3.5],
  [.21,-2.3,-.5,.5,1.5,2.5,3.8],
  [.25,-3.8,-2.5,-1,0,1,2,3,4.4],
  [.29,-3.5,-2.2,-.5,.5,1.5,2.5,3.5,4.4],
  [.33,-2.3,-1,.5,1.5,2.5,3.5,5],
  [.37,-3.2,-2,-.5,.5,1.5,2.5,4.1],
  [.41,-3.5,-2.5,-1,0,1,2,3,4.1],
  [.45,-3.8,-2.5,-.5,.5,1.5,2.5,3.9],
  [.49,-4,-3,-1.5,0,1,2,3.5],
  [.53,-4.7,-3,-1,0,1,2,2.9],
  [.57,-5,-3.5,-2,-1,0,1,2.6],
  [.61,-7,-5,-3.5,-2,-1,0,1,2],
  [.65,-7.6,-6,-4.5,-3,-2,-1,0,1.2],
  [.69,-8.2,-6.5,-5,-4,-3,-2,-1,.3],
  [.73,-9,-7.5,-6,-5,-4,-3,-2,-.3],
  [.77,-8.8,-7,-6,-5,-4,-3,-1.5],
  [.81,-8.2,-7,-6,-5,-4,-3,-2,-.6],
  [.85,-7.6,-6.5,-5.5,-4.5,-3.5,-2.5,-1.5,-.6],
  [.89,-7.3,-6,-5,-4,-3,-2,-1,0],
  [.93,-5.9,-4.5,-3.5,-2.5,-1.5,-.5,.9],
  [.97,-5.6,-4.5,-3.5,-2.5,-1.5,-.5,.5,1.2],
  [1,-5.3,-4,-3,-2,-1,0,1.8],
  [.03,-3,-1,0,1],[.07,-3,-1.5,.5,1.5],[.11,-2.5,-.5,.8,2],[.15,-1.5,0,1.5,2.8],[.19,-1,.5,2,3.4],[.23,-1,1,2.5,4],[.27,-.5,1.5,2.8,4],[.31,-1,.8,2,3.6],[.35,-.8,.8,2,3.5],[.39,-.8,.8,2,3.5],
  [.43,-1.5,.5,1.5,3],[.47,-2,-.5,1,2.5],[.51,-2.5,-.8,.5,2],[.55,-3,-1.5,0,1.5],[.59,-3.5,-2,-.5,1],[.63,-4.5,-2.5,-1,.5],[.67,-5,-3.5,-1.5,-.5],[.71,-6,-4.5,-3,-1.5],[.75,-7.5,-5.5,-4,-2.5],
  [.79,-7.5,-5.5,-4,-2.5],[.83,-6.5,-5,-3.5,-1.5],[.87,-6,-4.5,-3,-1],[.91,-5.5,-3.5,-2,-.5],[.95,-4.5,-3,-1.5,0],[.99,-4,-2.5,-.8,.8],
  [.288,11.7],[.401,11.9],[.236,10.1],[.342,10],[.32,9.7],[.45,9.6],[.428,8.8],[.18,9.2],[.128,8.2],[.207,8.8],[.252,8.2],[.286,8.1],
  [.342,8.2],[.387,7.9],[.545,8.2],[.5,7.2],[.534,6.7],[.038,6.7],[.016,6.5],[.106,7],[.173,6.9],[.315,6.9],[.027,5],[.011,4.1],
  [.14,5.6],[.241,6.2],[.399,5.6],[.455,5.3],[.601,6.5],[.664,6.6],[.579,5],[.664,5.3],[.613,4.4],[.691,3.7],[.759,3.5],[.838,4.9],
  [.883,5],[.939,5.4],[.984,6.2],[.905,3.5],[.95,3.2],[.995,2.3],[.827,3.8],[.804,1],[.072,-6.2],[.158,-4.7],[.484,-6],[.894,-7.7],
  [.8,-9.6],[.703,-9.2],[.736,-9.1],[.984,-6.2],
];

const ppRecovery: Row[] = [
  [.01,-5,-4,-3,-2,-1.2],
  [.05,-6.5,-5,-4,-3,-2,-1.2],
  [.09,-5.9,-4.5,-3.5,-2.5,-1.5,-.9],
  [.13,-6.5,-5,-4,-3,-2,-1,0,.9],
  [.17,-6.2,-4.5,-3.5,-2.5,-1.5,-.5,.5,1.5],
  [.21,-5.3,-4,-3,-2,-1,0,1,1.8],
  [.25,-3.8,-2.5,-1.5,-.5,.5,1.5,2.6],
  [.29,-3.5,-2,-1,0,1,2,3.2],
  [.33,-.6,.5,1.5,2.5,3.5,5],
  [.37,-3.5,-2.5,-.5,.5,1.5,2.5,3.5,5.3],
  [.41,-3.8,-2,-1,0,1,2,3,4,5.6],
  [.45,-3.8,-2.5,-.5,.5,1.5,2.5,3.5,5],
  [.49,-4,-2.5,-1,0,1,2,3,4.4],
  [.53,-4.4,-2.5,-.5,.5,1.5,2.5,3.5,4.4],
  [.57,-3.8,-2.5,-1,0,1,2,3.5],
  [.61,-4.4,-3,-1.5,-.5,.5,1.5,2.5,3.5],
  [.65,-3.5,-2.5,-1,0,1,2,3.2],
  [.69,-5.6,-4,-2,-1,0,1,2.9],
  [.73,-4.7,-3.5,-2,-.5,.5,1.5,2.9],
  [.77,-5.6,-4,-3,-1.5,-.5,.5,1.5,2.6],
  [.81,-5.9,-4.5,-3,-2,-1,0,1,2.3],
  [.85,-6.7,-5,-3.5,-2.5,-1.5,-.5,.5,1.5,2.6],
  [.89,-8.2,-6.5,-5,-3.5,-2.5,-1.5,-.5,.5,1.5],
  [.93,-8.2,-7,-5.5,-4,-3,-2,-1,0,1.2],
  [.97,-9.7,-8.5,-7,-5.5,-4.5,-3.5,-2.5,-1.5,-.5,.3],
  [1,-8.8,-7.5,-6,-5,-4,-3,-2,-1,-.3],
  [.03,-4.5,-3,-2,-1],[.07,-5.5,-4,-2.5,-1.2],[.11,-5,-3.5,-2,-.5],[.15,-5,-3,-1.5,.8],[.19,-4,-2.5,-.5,1.5],[.23,-3,-1,.5,2.2],[.27,-1.5,0,1.5,2.8],[.31,-.5,1,2,3.4],[.35,-1,.5,2,3.6],[.39,-1.5,.5,2,4],
  [.43,-1.8,.5,2,4],[.47,-2,.5,2,3.8],[.51,-2.5,0,1.5,3.4],[.55,-3,-.5,1.5,3.4],[.59,-3,-.5,1.5,3],[.63,-3.2,-.5,1,2.8],[.67,-3.5,-1,.5,2.5],[.71,-4,-1.5,.5,2.5],[.75,-4.5,-2,0,2.2],
  [.79,-5,-2.5,-.5,2],[.83,-5,-3,-1,1.8],[.87,-6,-3.5,-1.5,1],[.91,-7,-4,-2,.5],[.95,-7.5,-4.5,-2.5,-.5],[.99,-8,-5.5,-3,-1],
  [.241,11.1],[.336,9.7],[.367,9.5],[.439,8.8],[.417,8.1],[.495,8.6],[.3,7.7],[.203,8],[.241,7.2],[.169,6.9],[.196,6.2],[.41,6.5],
  [.5,6.7],[.511,5.9],[.601,6.5],[.635,6.5],[.673,5.5],[.725,5.4],[.601,5.3],[.833,5.9],[.849,4.2],[.815,3.7],[.872,3.1],[.932,2.3],
  [.135,4.3],[.088,2.8],[.038,2.8],[.005,2.5],[.011,1.5],[.011,.6],[.02,-.3],[0,-5.3],[.005,-6.9],[.011,-8.2],[.061,-8.2],[.05,-9.6],
  [.122,-7.6],[.083,-7.3],[.534,-5.7],[.725,-6.3],[.854,-7.8],[.905,-9.4],[.962,-9.4],[1,-9.1],
];

// dashed fit in each panel, values at linePhases
const rriFit = [
  [-.035,-.02,-.002,.02,.035,.04,.03,.008,-.018,-.035,-.04],
  [-.058,-.02,.025,.062,.076,.062,.02,-.03,-.062,-.077,-.065],
  [-.03,-.022,-.007,.012,.026,.03,.024,.006,-.014,-.028,-.031],
];
const mapDataFit = [
  [-.1,.2,.5,.65,.6,.4,.1,-.3,-.6,-.6,-.2],
  [2,3.2,3.5,2.6,.6,-1.4,-3,-3.6,-2.8,-.8,1.6],
  [-.1,.1,.3,.4,.4,.2,0,-.3,-.45,-.45,-.3],
];
const model1Fit = [
  [1.2,2,2,1.2,0,-1,-1.8,-2.2,-1.8,-.4,1.2],
  [4.6,3.9,1.6,-1,-3.5,-4.4,-4,-2.4,.2,3,4.6],
  [.5,1,1.3,1,.5,-.2,-.9,-1.3,-1.2,-.5,.5],
];
const model2Fit = [
  [-.5,.3,1,1.4,1.3,.7,-.1,-1,-1.6,-1.6,-.7],
  [3.2,4.4,3.4,.8,-2,-3.8,-4.5,-3.8,-1.8,.8,3.3],
  [-.5,-.1,.3,.6,.7,.5,.2,-.2,-.6,-.8,-.7],
];
const ppFit = [
  [-2.2,-1,.8,2.2,2.6,2,.9,-.4,-2,-2.9,-2.4],
  [-.9,.6,2.1,2.9,2.2,1,-.3,-2,-2.9,-2.6,-1.1],
  [-2.5,-1.8,-.4,1.2,2.3,2.4,1.3,-.2,-1.6,-2.5,-2.6],
];

// hyphen in the tick labels, not d3's long minus
const locale = d3.formatLocale({ decimal: ".", thousands: ",", grouping: [3], currency: ["$", ""], minus: "-" });
const oneDecimal = locale.format(".1f");
const whole = locale.format("d");

const rows = [
  { top: 59, bottom: 229.3, max: 0.18, ticks: [0.1, 0, -0.1], fmt: oneDecimal, labelShift: 0, labelX: 220, points: [rriBaseline, rriSdb, rriRecovery], fit: rriFit },
  { top: 266.3, bottom: 437.7, max: 18, ticks: [15, 0, -15], fmt: whole, labelShift: 0, labelX: 226, points: [mapDataBaseline, mapDataSdb, mapDataRecovery], fit: mapDataFit },
  { top: 474.3, bottom: 645, max: 18, ticks: [15, 0, -15], fmt: whole, labelShift: -3, labelX: 226, points: [model1Baseline, model1Sdb, model1Recovery], fit: model1Fit },
  { top: 681.7, bottom: 852.7, max: 18, ticks: [15, 0, -15], fmt: whole, labelShift: -5, labelX: 226, points: [model2Baseline, model2Sdb, model2Recovery], fit: model2Fit },
  { top: 889.7, bottom: 1060.3, max: 15, ticks: [10, 0, -10], fmt: whole, labelShift: -9, labelX: 226, points: [ppBaseline, ppSdb, ppRecovery], fit: ppFit },
];
const cols = [
  { left: 254, right: 416, x0: 260.3, x1: 408.7, titleX: 324.5 },
  { left: 448.3, right: 611.7, x0: 456, x1: 604, titleX: 529 },
  { left: 643.7, right: 806.7, x0: 651, x1: 799, titleX: 714 },
];

const sideLabels = [
  { text: "RRI  (s)", x: 16, y: 153 },
  { text: "PP", x: 45, y: 967 },
  { text: "(mmHg )", x: 1, y: 1009 },
];
const rotatedLabels = [
  { text: "Data", x: 110, y: 355, size: 35 },
  { text: "Model #1", x: 110, y: 576, size: 35 },
  { text: "Model #2", x: 110, y: 782, size: 35 },
  { text: "MAP (mmHg)", x: 52, y: 576, size: 36.5 },
];

const BLUE = "#3f7fe9";
const RED = "#e8000f";
const FONT = "'Liberation Sans', Arial, sans-serif";

export default function App() {
  const svgRef = useRef<SVGSVGElement>(null);

  useEffect(() => {
    if (!svgRef.current) return;
    const svg = d3.select(svgRef.current);
    svg.selectAll("*").remove();
    svg.style("font-family", FONT);

    rows.forEach((row, r) => {
      const y = d3.scaleLinear().domain([-row.max, row.max]).range([row.bottom, row.top]);
      cols.forEach((col, c) => {
        const x = d3.scaleLinear().domain([0, 1]).range([col.x0, col.x1]);
        const g = svg.append("g");

        const pts = row.points[c].flatMap(([p, ...vals]) => vals.map((v) => [p, v]));
        g.append("g")
          .selectAll("circle")
          .data(pts)
          .join("circle")
          .attr("cx", (d) => x(d[0]))
          .attr("cy", (d) => y(d[1]))
          .attr("r", 3.6)
          .attr("fill", BLUE);

        const line = d3
          .line<number>()
          .x((_, i) => x(linePhases[i]))
          .y((d) => y(d))
          .curve(d3.curveCatmullRom);
        g.append("path")
          .attr("d", line(row.fit[c]))
          .attr("fill", "none")
          .attr("stroke", RED)
          .attr("stroke-width", 4.4)
          .attr("stroke-dasharray", "15 6");

        g.append("rect")
          .attr("x", col.left)
          .attr("y", row.top)
          .attr("width", col.right - col.left)
          .attr("height", row.bottom - row.top)
          .attr("fill", "none")
          .attr("stroke", "#000")
          .attr("stroke-width", 2.2);

        // y ticks on every panel, labels only on the first column
        const yAxis = g
          .append("g")
          .attr("transform", `translate(${col.left},0)`)
          .call(d3.axisLeft(y).tickValues(row.ticks).tickSize(12).tickFormat(row.fmt as any));
        yAxis.select(".domain").remove();
        yAxis.selectAll("line").attr("stroke", "#000").attr("stroke-width", 2.2);
        yAxis.selectAll("text").remove();
        if (c === 0) {
          g.append("g")
            .selectAll("text")
            .data(row.ticks)
            .join("text")
            .attr("x", row.labelX)
            .attr("y", (d) => y(d) + row.labelShift)
            .attr("dy", "0.36em")
            .attr("text-anchor", "end")
            .attr("font-size", 33)
            .text((d) => row.fmt(d));
        }

        const xAxis = g
          .append("g")
          .attr("transform", `translate(0,${row.bottom})`)
          .call(d3.axisBottom(x).tickValues([0, 1]).tickSize(12).tickFormat(whole as any));
        xAxis.select(".domain").remove();
        xAxis.selectAll("line").attr("stroke", "#000").attr("stroke-width", 2.2);
        xAxis.selectAll("text").remove();
        if (r === rows.length - 1) {
          g.append("g")
            .selectAll("text")
            .data([0, 1])
            .join("text")
            .attr("x", (d) => x(d))
            .attr("y", 1112)
            .attr("text-anchor", "middle")
            .attr("font-size", 33)
            .text((d) => d);
        }
      });
    });

    svg
      .append("g")
      .selectAll("text")
      .data(columnTitles)
      .join("text")
      .attr("x", (_, i) => cols[i].titleX)
      .attr("y", 37)
      .attr("text-anchor", "middle")
      .attr("font-size", 42)
      .text((d) => d);

    svg
      .append("g")
      .selectAll("text")
      .data(sideLabels)
      .join("text")
      .attr("x", (d) => d.x)
      .attr("y", (d) => d.y)
      .attr("font-size", 34)
      .style("white-space", "pre")
      .text((d) => d.text);

    svg
      .append("g")
      .selectAll("text")
      .data(rotatedLabels)
      .join("text")
      .attr("transform", (d) => `translate(${d.x},${d.y}) rotate(-90)`)
      .attr("text-anchor", "middle")
      .attr("font-size", (d) => d.size)
      .attr("word-spacing", -6)
      .text((d) => d.text);

    svg
      .append("text")
      .attr("x", 390)
      .attr("y", 1161)
      .attr("font-size", 35.5)
      .style("white-space", "pre")
      .text("respiratory  phase");
  }, []);

  return (
    <svg
      ref={svgRef}
      width={808}
      height={1173}
      style={{ position: "absolute", left: 0, top: 0, background: "#fff" }}
    />
  );
}
